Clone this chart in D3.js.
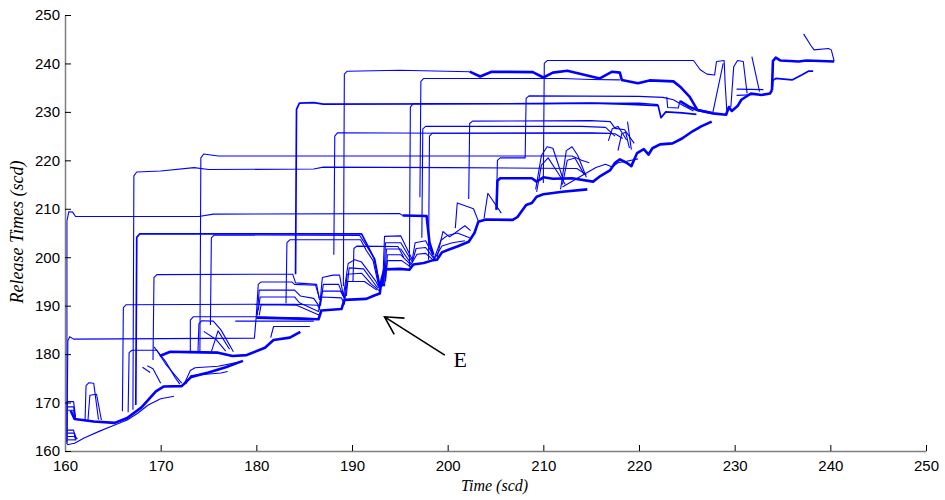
<!DOCTYPE html>
<html>
<head>
<meta charset="utf-8">
<script src="https://cdn.jsdelivr.net/npm/d3@7"></script>
<style>
  body { margin: 0; background: #fff; }
  svg { display: block; }
</style>
</head>
<body>
<svg id="chart"></svg>
<script>
// axis ticks
const xTicks = [160, 170, 180, 190, 200, 210, 220, 230, 240, 250];
const yTicks = [160, 170, 180, 190, 200, 210, 220, 230, 240, 250];

// long plateaus: [time, release time]
const p208 = [[160.2,161.5],[160.2,207.5],[160.4,209.4],[160.8,209.3],[161.1,208.4],[174,208.4],[175.5,208.9],[195,209],[195.3,208.6]];
const p208end = [[195.3,208.6],[197.8,208.5],[198.1,203],[198.5,200.5]];
const p183 = [[160.2,161.5],[160.3,182.8],[160.5,183.6],[160.9,183.1],[179.8,183.3],[180,188],[180.2,194.4],[180.5,194.9],[183.7,194.9],[184,194.4],[186.2,194.2],[186.6,191.5]];
const p190 = [[166,168.2],[166.1,189.6],[166.4,190.2],[184,190.3],[186.4,190.1],[186.7,189]];
const p196 = [[169.2,178.8],[169.3,195.8],[169.6,196.4],[183.8,196.5],[184.1,194.7],[186.3,194.4],[186.6,191.2]];
const p218 = [[167.1,168.5],[167.2,216.8],[167.5,217.6],[170,217.8],[173.5,218.5],[175,218.1],[186,218.2],[187,218.6],[200,218.5],[213.5,218.3],[214.5,217]];
const p221 = [[174.1,180.3],[174.2,220.5],[174.5,221.3],[176,220.9],[213,220.9],[214,220],[214.8,219.5]];
const p204a = [[167.4,169.5],[167.5,204.1],[167.8,204.8],[191,204.8],[191.6,202.5],[192.3,199.8],[192.9,193.8]];
const p204b = [[175.2,186],[175.3,204],[175.6,204.6],[190.8,204.5],[191.3,203],[192.4,199.6],[193,193.4]];
const p203 = [[183.1,190.5],[183.2,203],[183.5,203.6],[190.9,203.6],[191.5,201.4],[192.2,199.3],[192.8,194]];
const p202 = [[190.1,195],[190.2,201.8],[190.5,202.3],[194.8,202.2],[195.4,200]];
const p232 = [[184.1,196.5],[184.2,230.5],[184.5,231.8],[186,231.9],[187,231.6],[210,231.7],[215,231.8],[218.5,231.6],[222,231.3],[222.3,228.8],[222.8,230],[224.5,229.8],[226,229.5]];
const p232b = [[196,198],[196.1,231],[196.4,231.7],[220,231.8],[222,231.5]];
const p226 = [[188.1,200.5],[188.2,225],[188.5,225.7],[200,225.6],[215,225.7],[217.5,225.5],[218.3,224.5]];
const p226b = [[198,199.5],[198.1,225],[198.4,225.6],[217,225.6]];
const p238 = [[189.1,194],[189.2,237.8],[189.5,238.4],[195,238.6],[202.3,238.3]];
const p238end = [[202.3,238.3],[203.4,237.3],[204.6,238.3],[208.9,238.2],[210,237.1],[211,238.1],[212.5,238.5],[215.9,236.9],[217.2,238.3],[218,238.1],[218.2,236.6],[219.9,235.9],[221.1,236.5],[223.6,236.3],[224.3,235.2],[225.3,233.1],[226.1,230.4],[227.7,229.7]];
const p237 = [[197.1,212.4],[197.2,236.3],[197.5,236.9],[212,236.9],[215,236.7],[218,236.6]];
const p227 = [[197.3,204],[197.4,226.5],[197.7,227],[214,227],[216.5,226.8],[217.5,225]];
const p228 = [[202.2,212],[202.3,227.6],[202.6,228.1],[215,228.2],[217,228],[217.5,226.6],[218.5,226.3],[219.5,223.5]];
const p233 = [[205.1,209.8],[205.2,220],[205.5,220.5],[208.1,220.5],[208.2,232.8],[208.5,233.3],[220,233.2],[222.5,233],[223.6,232.5],[224.7,231.2],[225.7,230.2]];
const p241 = [[210,215.3],[210.1,240],[210.4,240.6],[225.7,240.6],[226.4,238.7],[227.1,237.8],[227.9,237.6],[228.1,240.4],[228.9,240.6],[229,236],[229.2,229.5]];

// short starts at t = 160
const lead170 = [[160.2,162],[160.2,170.2],[160.9,170.2],[161.1,167]];
const lead169 = [[160.3,169.1],[160.9,169.1],[161.1,166.8]];
const lead168 = [[160.3,168.4],[160.9,168.4],[161,166.8]];
const low164 = [[160.2,164.3],[160.9,164.3],[161.1,162.2]];
const low163a = [[160.3,163.7],[161,163.7],[161.2,162.4]];
const low163b = [[160.3,163],[161,163],[161.3,162.5]];
const low162 = [[160.3,162.3],[161.1,162.3]];

// lower left cluster
const aBottom = [[160.2,161.3],[161,161.6],[162,162.7],[163.5,164],[165,165.2],[166.5,166.4],[167.6,167.8],[168.7,169.5],[170,170.8],[171.4,171.3]];
const aMain = [[160.6,168.3],[161,166.6],[163,166.1],[165.2,165.8],[166.5,166.8],[168,169],[169.5,172.3],[170.3,173.3],[172.2,173.4],[173.2,175.3],[175,176.2],[176.8,177.3],[178.6,178.6]];
const aMid = [[172.4,173.6],[173.1,176.6],[173.6,177.2],[176,177.5],[178.3,178.4]];
const aMid2 = [[172.6,173.8],[173.2,175.6],[176.3,176.1],[177,176.4]];
const a180 = [[169.9,179.6],[171,180.5],[173,180.4],[176,180.3],[177.5,179.6],[179,179.8],[180.9,181.3],[181.8,182.9],[183.5,183.4],[184.6,184.6]];
const a185 = [[181.5,183.4],[181.8,185.7],[185.6,185.7]];
const hump1 = [[162.1,166.4],[162.2,173.5],[162.5,174.1],[163,174],[163.2,171],[163.5,166.5]];
const hump2 = [[162.4,166.3],[162.6,171.5],[163.3,171.7],[163.8,166.4]];
const dec1 = [[166.6,168],[166.7,180.3],[167,180.8],[169.6,180.8],[170.5,178],[172.2,174]];
const dec2 = [[168.6,177.6],[169.2,177],[170,174]];
const dec3 = [[169.3,181.5],[170.5,178.5],[171.5,175.2],[172,173.8]];
const dec4 = [[168.1,177.3],[168.9,176.2]];
const box173 = [[173.1,180.4],[173.1,187],[173.4,187.7],[180,187.7],[184.5,187.5],[186.5,187.3]];
const box174 = [[173.9,180.5],[174,186.3],[174.3,186.9],[175.5,186.8],[176.3,185],[177.6,180.5]];
const dd2 = [[174.5,184.7],[175.8,183],[176.8,180.6]];
const tent = [[175.3,180.5],[176,184.8],[177.2,181]];
const p187 = [[177.8,186.8],[186,186.8]];

// middle bundle
const b1 = [[180,187.5],[184.5,187.3],[186.5,187.2],[186.8,189],[188.9,189.3],[189.2,191.2],[191.5,191.4],[192.2,192],[192.9,192.5],[193.1,195.5],[193.4,197.6]];
const b2 = [[180.1,188],[180.3,193.2],[184,193.2],[184.6,192],[186,191.5],[186.6,189.8],[186.9,193],[188.8,193],[189.2,191.6],[189.5,196.5],[191,196.7],[192,194.5],[192.9,193]];
const b3 = [[180.2,189],[180.4,191.8],[184,191.8],[184.5,190.6],[186.5,188.8],[186.8,191.8],[188.9,191.6],[189.2,190.3],[189.5,195],[191.3,195],[192.6,193.2]];
const b4 = [[180.3,188],[180.5,190.2],[184.2,190.1],[186.6,188]];
const b5 = [[186.6,189.4],[186.9,195.8],[188,196.3],[188.7,196.3],[189.1,192],[189.6,198.7],[190.3,199.5],[191,199],[192.5,195],[193,193]];
const b6 = [[186.7,190],[187,194.4],[188.6,194.4],[189.2,191.4]];
const b7 = [[189.4,192],[189.7,197.8],[191.2,197.6],[192.7,193.6]];

// upper-middle staircase
const c1 = [[193.1,194],[193.4,197.5],[195,197.6],[196,197.4],[196.4,198.5],[197.5,198.8],[198.5,199.4],[198.9,199.5],[199.4,201],[200,201.5],[201,202.2],[202.2,203.2],[202.8,205],[203.2,207.3],[204,207.8],[206.8,207.7],[207.3,208.3],[208.2,210.8],[208.8,211.2],[209.3,212.5],[210,213],[212,213.5],[214.6,214]];
const cb1 = [[193.2,194],[193.4,204.3],[195.1,204.4],[196.3,199.5],[196.6,203],[197.7,203.4],[198.6,199.8],[199.3,203.5],[200,204.5],[201,205],[202.3,204]];
const cb2 = [[193.3,194],[193.5,203],[195.1,203],[196.3,199],[196.7,201.8],[197.7,202],[198.6,199.6],[199.4,202.3],[200.5,203],[201.8,203.4]];
const cb3 = [[193.4,194],[193.6,201.7],[195.1,201.7],[196.2,198.6],[196.8,200.6],[197.7,200.8],[198.5,199.4]];
const cb4 = [[193.5,195],[193.7,200.5],[195.1,200.5],[196.2,198.3]];
const cb5 = [[193.5,195.5],[193.7,199.3],[195.2,199.3],[196.1,198]];
const ch1 = [[200.8,206],[201,211.2],[202.7,210],[203.2,207.5]];
const ch2 = [[203.8,208],[204.2,213.2],[205.6,209.1]];
const ch3 = [[198.9,200],[199.5,205.3],[200.2,204.2],[201.8,206.5],[202.4,205.5]];

// upper staircase
const c216 = [[205.1,209.8],[205.2,215.8],[205.5,216.3],[208.8,216.3],[209.3,215.6],[210,216.5],[211,216.2],[213,216.3],[215.2,215.6],[216,216.8],[217,218],[217.5,219.5],[218,220.2],[218.7,219.5],[219.2,218.8],[219.8,221.5],[220.5,222.3],[221,221.2],[221.4,222.5],[222.2,223.3],[223.5,223.5],[224.5,224.5],[225.6,226],[226.5,227],[227.6,228]];
const h1 = [[209.2,214],[209.8,221],[210.4,222.8],[211,222.5],[212,216.5]];
const h2 = [[209.3,213.5],[209.8,219],[210.5,220.5],[211.5,217.5],[212.3,215]];
const h3 = [[211.8,214],[212.4,222],[213,222.8],[213.6,221],[214.5,216.5]];
const h4 = [[212,215],[212.5,220],[213.3,220.5],[214.3,217]];
const dl = [[212,214.5],[214,216.8],[215.5,218.5],[216.5,219.2],[217.2,218.6],[217.8,219.5],[218.7,219.8],[219.9,220.3]];
const dh1 = [[216.8,224],[217.2,226.5],[217.8,227],[218.3,225.5],[218.7,224.2]];
const dh2 = [[217.8,222],[218.2,225.5],[218.6,225.8],[219,222.5]];
const dv1 = [[218.8,228],[219.2,222.2]];
const dbox = [[222.9,233.1],[223,230.9],[224.1,230.8],[224.3,232.4]];

// top right
const e1 = [[224.3,232.2],[225.3,231],[226.1,230.4],[227.7,229.7],[229.1,229.4],[229.4,231],[229.7,230.2],[230.3,231.2],[230.7,232.5],[231.7,233.8],[232.8,233.5],[233.7,233.8],[233.9,234.5]];
const e2 = [[233.9,234.5],[234,240.5],[234.3,241.2],[234.8,240.6],[236.7,240.4],[237.5,240.6],[240.4,240.4]];
const e3 = [[233.9,234.5],[234,236.5],[234.3,236.9],[236,236.6],[237,237.6],[237.7,238.4],[238.2,238.4]];
const e4 = [[237.2,246.1],[238,243.6],[238.3,242.8],[239.8,243.1],[240.1,242.8],[240.4,240.5]];
const e5 = [[227.7,229.7],[228.8,240]];
const e6 = [[229.6,231],[229.9,239.3],[230.3,240.6],[230.9,240.4],[231.3,233.8]];
const e7 = [[231.8,241.4],[232.6,234.2]];
const e8 = [[230.2,234.7],[233,234.6]];
const e9 = [[230.2,233.4],[232.5,233.6]];

// annotation
const arrowTip = [193.4, 187.7];
const arrowTail = [199.7, 179.8];
const labelE = [201.3, 177.4];

const thin = [p208, p183, p190, p196, p218, p221, p204b, p203, p202, p232b, p226, p226b, p238, p237, p227, p228, p233, p241,
  lead170, lead169, lead168, low164, low163a, low163b, low162, aBottom, aMid, aMid2, a185, hump1, hump2, dec1, dec2, dec3, dec4,
  box173, box174, dd2, tent, p187, b2, b3, b4, b5, b6, b7, cb1, cb2, cb3, cb4, cb5, ch1, ch2, ch3,
  h1, h2, h3, h4, dl, dh1, dh2, dv1, dbox, e4, e5, e6, e7, e8, e9];
const medium = [p204a, p232, e3];
const thick = [p208end, p238end, aMain, a180, b1, c1, c216, e1, e2];

const width = 945, height = 500;
const svg = d3.select('#chart').attr('width', width).attr('height', height);

const x = d3.scaleLinear().domain([160, 250]).range([65, 926]);
const y = d3.scaleLinear().domain([160, 250]).range([451, 15]);

const line = d3.line().x(d => x(d[0])).y(d => y(d[1]));

const plot = svg.append('g');
const drawSet = (set, w) => {
  plot.append('g')
    .selectAll('path')
    .data(set)
    .join('path')
    .attr('d', line)
    .attr('fill', 'none')
    .attr('stroke', '#0000ff')
    .attr('stroke-width', w)
    .attr('stroke-linejoin', 'round');
};
drawSet(thin, 1.1);
drawSet(medium, 1.7);
drawSet(thick, 2.6);

// axes, ticks pointing inward
const xAxis = svg.append('g')
  .attr('transform', `translate(0,${y(160)})`)
  .call(d3.axisBottom(x).tickValues(xTicks).tickSizeInner(-6).tickSizeOuter(0).tickPadding(9));
const yAxis = svg.append('g')
  .attr('transform', `translate(${x(160)},0)`)
  .call(d3.axisLeft(y).tickValues(yTicks).tickSizeInner(-6).tickSizeOuter(0).tickPadding(5));

[xAxis, yAxis].forEach(g => {
  g.select('.domain').attr('stroke', '#7f7f7f').attr('stroke-width', 1.5);
  g.selectAll('.tick line').attr('stroke', '#000');
  g.selectAll('.tick text')
    .attr('fill', '#000')
    .style('font-family', '"Liberation Sans", Arial, sans-serif')
    .style('font-size', '15px');
});

svg.append('text')
  .attr('x', x(204.9))
  .attr('y', 491)
  .attr('text-anchor', 'middle')
  .style('font-family', '"Liberation Serif", "Times New Roman", serif')
  .style('font-style', 'italic')
  .style('font-size', '16px')
  .text('Time (scd)');

svg.append('text')
  .attr('transform', `translate(23,${y(205.2)}) rotate(-90)`)
  .attr('text-anchor', 'middle')
  .style('font-family', '"Liberation Serif", "Times New Roman", serif')
  .style('font-style', 'italic')
  .style('font-size', '18px')
  .text('Release Times (scd)');

// arrow pointing at E
const tip = [x(arrowTip[0]), y(arrowTip[1])];
const tail = [x(arrowTail[0]), y(arrowTail[1])];
const ang = Math.atan2(tail[1] - tip[1], tail[0] - tip[0]);
const headLen = 20, spread = 0.5;
svg.append('path')
  .attr('d', `M${tail[0]},${tail[1]}L${tip[0]},${tip[1]}` +
    `M${tip[0] + headLen * Math.cos(ang - spread)},${tip[1] + headLen * Math.sin(ang - spread)}` +
    `L${tip[0]},${tip[1]}` +
    `L${tip[0] + headLen * Math.cos(ang + spread)},${tip[1] + headLen * Math.sin(ang + spread)}`)
  .attr('fill', 'none')
  .attr('stroke', '#000')
  .attr('stroke-width', 1.6);

svg.append('text')
  .attr('x', x(labelE[0]))
  .attr('y', y(labelE[1]))
  .attr('text-anchor', 'middle')
  .style('font-family', '"Liberation Serif", "Times New Roman", serif')
  .style('font-size', '22px')
  .text('E');
</script>
</body>
</html>
